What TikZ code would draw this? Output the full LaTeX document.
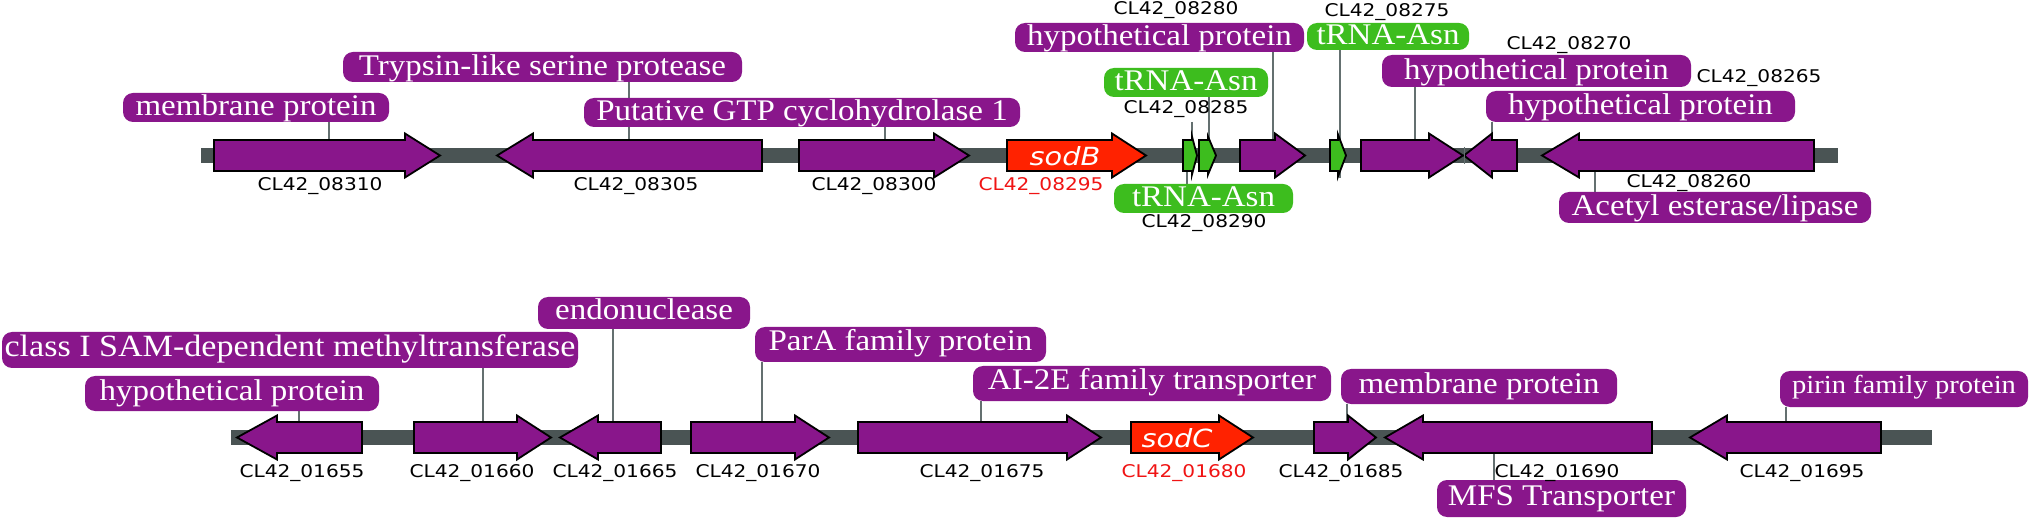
\documentclass[tikz,border=0pt]{standalone}
\usepackage{fontspec}
\newfontfamily\lblfont[FakeStretch=1.1]{Liberation Serif}
\newfontfamily\idfont[FakeStretch=1.15]{DejaVu Sans}
\newfontfamily\sodfont[FakeStretch=1.15]{DejaVu Sans}
\definecolor{gpurple}{RGB}{137,22,139}
\definecolor{ggreen}{RGB}{61,189,30}
\definecolor{gred}{RGB}{255,34,0}
\definecolor{idred}{RGB}{240,20,20}
\definecolor{barcol}{RGB}{74,84,84}
\definecolor{conncol}{RGB}{100,112,112}
\pgfdeclarelayer{bg}
\pgfsetlayers{bg,main}
% forward gene: colour, x1, head base, tip, y centre, head half-height
\newcommand\gfwd[6]{\draw[gene, fill=#1] (#2,#5-15.5) -- (#3,#5-15.5) -- (#3,#5-#6) -- (#4,#5) -- (#3,#5+#6) -- (#3,#5+15.5) -- (#2,#5+15.5) -- cycle;}
% reverse gene: colour, tip, head base, x2, y centre, head half-height
\newcommand\grev[6]{\draw[gene, fill=#1] (#4,#5-15.5) -- (#3,#5-15.5) -- (#3,#5-#6) -- (#2,#5) -- (#3,#5+#6) -- (#3,#5+15.5) -- (#4,#5+15.5) -- cycle;}
\tikzset{
  lbl/.style={text=white, inner sep=0pt, rounded corners=10pt},
  lblT/.style={lbl, font=\lblfont\fontsize{30}{30}\selectfont, text height=23pt, text depth=6pt},
  lblB/.style={lbl, font=\lblfont\fontsize{30}{30}\selectfont, text height=24pt, text depth=11pt},
  purp/.style={fill=gpurple},
  grn/.style={fill=ggreen},
  idl/.style={font=\idfont\fontsize{17.5}{17.5}\selectfont, inner sep=0pt, anchor=base},
  sodt/.style={font=\sodfont\itshape\fontsize{25}{25}\selectfont, text=white, inner sep=0pt, anchor=base},
  conn/.style={draw=conncol, line width=1.3pt},
  gene/.style={draw=black, line width=1.8pt, line join=miter},
}
\begin{document}
\begin{tikzpicture}[x=1pt, y=-1pt]
\useasboundingbox (0,0) rectangle (2029,518);

% ---------------- top row labels ----------------
\node[lblT, purp, minimum width=266pt, minimum height=29pt] (L1) at (256,107.5) {membrane protein};
\node[lblT, purp, minimum width=399pt, minimum height=30pt] (L2) at (542.5,67) {Trypsin-like serine protease};
\node[lblT, purp, minimum width=436pt, minimum height=29pt] (L3) at (802,112.5) {Putative GTP cyclohydrolase 1};
\node[lblT, purp, minimum width=289pt, minimum height=29pt] (L4) at (1159.5,37.5) {hypothetical protein};
\node[lblT, grn, minimum width=164pt, minimum height=29pt] (L5) at (1186,82.5) {tRNA-Asn};
\node[lblT, grn, minimum width=179pt, minimum height=29pt] (L6) at (1203.5,198.5) {tRNA-Asn};
\node[lblT, grn, minimum width=162pt, minimum height=27pt, text height=22pt, text depth=5pt] (L7) at (1388,36.5) {tRNA-Asn};
\node[lblT, purp, minimum width=309pt, minimum height=32pt] (L8) at (1536.5,71) {hypothetical protein};
\node[lblT, purp, minimum width=309pt, minimum height=31pt] (L9) at (1640.5,106.5) {hypothetical protein};
\node[lblT, purp, minimum width=312pt, minimum height=31pt] (L10) at (1715,207.5) {Acetyl esterase/lipase};

% ---------------- top row ids ----------------
\node[idl] (t08310) at (320,191) {CL42\_08310};
\node[idl] (t08305) at (636,191) {CL42\_08305};
\node[idl] (t08300) at (874,191) {CL42\_08300};
\node[idl, text=idred] (t08295) at (1041,191) {CL42\_08295};
\node[idl] (t08285) at (1186,114) {CL42\_08285};
\node[idl] (t08290) at (1204,228) {CL42\_08290};
\node[idl] (t08280) at (1176,15) {CL42\_08280};
\node[idl] (t08275) at (1387,17) {CL42\_08275};
\node[idl] (t08270) at (1569,50) {CL42\_08270};
\node[idl] (t08265) at (1759,83) {CL42\_08265};
\node[idl] (t08260) at (1689,188) {CL42\_08260};

% ---------------- bottom row labels ----------------
\node[lblB, purp, minimum width=576pt, minimum height=36pt, font=\lblfont\fontsize{31}{31}\selectfont] (B1) at (290,350) {class I SAM-dependent methyltransferase};
\node[lblB, purp, minimum width=294pt, minimum height=35pt] (B2) at (232,393.5) {hypothetical protein};
\node[lblB, purp, minimum width=212pt, minimum height=32pt, text height=23pt, text depth=9pt] (B3) at (644,313) {endonuclease};
\node[lblB, purp, minimum width=291pt, minimum height=35pt] (B4) at (900.5,344.5) {ParA family protein};
\node[lblB, purp, minimum width=358pt, minimum height=35pt] (B5) at (1152,383.5) {AI-2E family transporter};
\node[lblB, purp, minimum width=276pt, minimum height=35pt] (B6) at (1479,386.5) {membrane protein};
\node[lblB, purp, minimum width=249pt, minimum height=37pt] (B7) at (1561.5,498.5) {MFS Transporter};
\node[lblB, purp, minimum width=248pt, minimum height=36pt, font=\lblfont\fontsize{26}{26}\selectfont, text height=23pt, text depth=13pt] (B8) at (1904,389) {pirin family protein};

% ---------------- bottom row ids ----------------
\node[idl] (t01655) at (302,477) {CL42\_01655};
\node[idl] (t01660) at (472,477) {CL42\_01660};
\node[idl] (t01665) at (615,477) {CL42\_01665};
\node[idl] (t01670) at (758,477) {CL42\_01670};
\node[idl] (t01675) at (982,477) {CL42\_01675};
\node[idl, text=idred] (t01680) at (1184,477) {CL42\_01680};
\node[idl] (t01685) at (1341,477) {CL42\_01685};
\node[idl] (t01690) at (1557,477) {CL42\_01690};
\node[idl] (t01695) at (1802,477) {CL42\_01695};

% connector end points on the genes
\coordinate (k1) at (329,140);
\coordinate (k2) at (629,140);
\coordinate (k3) at (885,140);
\coordinate (k4) at (1273,140);
\coordinate (k5) at (1209,140);
\coordinate (k6) at (1187,171);
\coordinate (k6a) at (1192,122);
\coordinate (k6b) at (1192,140);
\coordinate (k7) at (1340,178);
\coordinate (k8) at (1415,140);
\coordinate (k9) at (1492,140);
\coordinate (k10) at (1595,171);
\coordinate (m1) at (483,422);
\coordinate (m2) at (299,422);
\coordinate (m3) at (613,422);
\coordinate (m4) at (762,422);
\coordinate (m5) at (981,422);
\coordinate (m6) at (1347,422);
\coordinate (m7) at (1494,452);
\coordinate (m8) at (1786,422);

\begin{pgfonlayer}{bg}
  \fill[white] (0,0) rectangle (2029,518);
  \fill[barcol] (201,148) rectangle (1838,163);
  \fill[barcol] (231,430) rectangle (1932,445);
  \draw[conn] (k1 |- L1.south) -- (k1);
  \draw[conn] (k2 |- L2.south) -- (k2);
  \draw[conn] (k3 |- L3.south) -- (k3);
  \draw[conn] (k4 |- L4.south) -- (k4);
  \draw[conn] (k5 |- L5.south) -- (k5);
  \draw[conn] (k6) -- (k6 |- L6.north);
  \draw[conn] (k6a) -- (k6b);
  \draw[conn] (k7 |- L7.south) -- (k7);
  \draw[conn] (k8 |- L8.south) -- (k8);
  \draw[conn] (k9 |- L9.south) -- (k9);
  \draw[conn] (k10) -- (k10 |- L10.north);
  \draw[conn] (m1 |- B1.south) -- (m1);
  \draw[conn] (m2 |- B2.south) -- (m2);
  \draw[conn] (m3 |- B3.south) -- (m3);
  \draw[conn] (m4 |- B4.south) -- (m4);
  \draw[conn] (m5 |- B5.south) -- (m5);
  \draw[conn] (m6 |- B6.south) -- (m6);
  \draw[conn] (m7) -- (m7 |- B7.north);
  \draw[conn] (m8 |- B8.south) -- (m8);
\end{pgfonlayer}

% ---------------- top row genes ----------------
\gfwd{gpurple}{214}{405}{440}{155.5}{22}
\grev{gpurple}{497}{533}{762}{155.5}{22}
\gfwd{gpurple}{799}{934}{969}{155.5}{22}
\gfwd{gred}{1007}{1112}{1146}{155.5}{22}
\gfwd{ggreen}{1183}{1192}{1197}{155.5}{19}
\gfwd{ggreen}{1199}{1208}{1216}{155.5}{19}
\gfwd{gpurple}{1240}{1275}{1305}{155.5}{22}
\gfwd{ggreen}{1330}{1338}{1346}{155.5}{21}
\gfwd{gpurple}{1361}{1429}{1463}{155.5}{22}
\grev{gpurple}{1464}{1492}{1517}{155.5}{22}
\grev{gpurple}{1542}{1579}{1814}{155.5}{22}
\draw[conncol, line width=1pt] (1464,147) -- (1464,164);
\node[sodt] (sodB) at (1065,166) {sodB};

% ---------------- bottom row genes ----------------
\grev{gpurple}{237}{277}{362}{437.5}{22}
\gfwd{gpurple}{414}{517}{551}{437.5}{22}
\grev{gpurple}{560}{598}{661}{437.5}{22}
\gfwd{gpurple}{691}{795}{829}{437.5}{22}
\gfwd{gpurple}{858}{1067}{1101}{437.5}{22}
\gfwd{gred}{1131}{1219}{1253}{437.5}{22}
\gfwd{gpurple}{1314}{1348}{1376}{437.5}{22}
\grev{gpurple}{1385}{1423}{1652}{437.5}{22}
\grev{gpurple}{1690}{1727}{1881}{437.5}{22}
\node[sodt] (sodC) at (1177,447) {sodC};
\end{tikzpicture}
\end{document}
